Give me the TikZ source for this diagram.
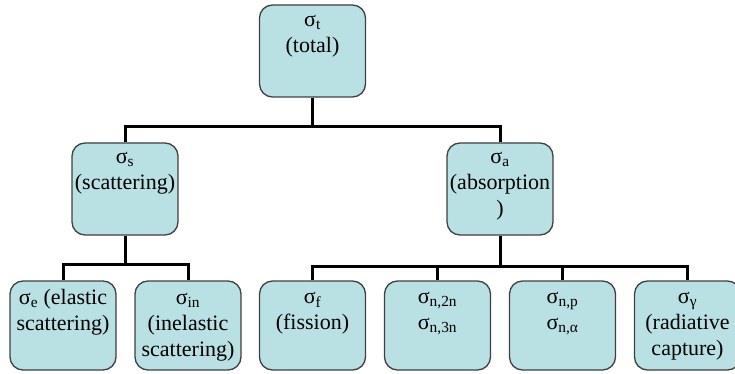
\documentclass[tikz,border=0pt]{standalone}
\usepackage{fontspec}
\setmainfont{Liberation Serif}
\definecolor{boxfill}{RGB}{185,224,227}
\definecolor{boxline}{RGB}{64,64,64}
\tikzset{
  cbox/.style={draw=boxline, fill=boxfill, line width=1.3pt, rounded corners=13pt,
    minimum width=106pt, minimum height=92pt, inner sep=0pt},
  ctext/.style={anchor=north, align=center, inner sep=0pt,
    font=\fontsize{22}{26}\selectfont},
  link/.style={line width=3pt}
}
\newcommand{\sig}[1]{\strut σ\textsubscript{#1}}
\begin{document}
\begin{tikzpicture}[x=1pt,y=-1pt]
  \useasboundingbox (0,0) rectangle (735,374);
  % top and middle row
  \node[cbox] (total) at (312.5,51) {};
  \node[cbox] (scat) at (125,189) {};
  \node[cbox] (abs) at (500,189) {};
  % bottom row
  \node[cbox, minimum height=89pt] (elas) at (63,325.5) {};
  \node[cbox, minimum height=89pt] (inel) at (188,325.5) {};
  \node[cbox, minimum height=89pt] (fis) at (312.5,325.5) {};
  \node[cbox, minimum height=89pt] (n2n) at (437.5,325.5) {};
  \node[cbox, minimum height=89pt] (np) at (562.5,325.5) {};
  \node[cbox, minimum height=89pt] (cap) at (687.5,325.5) {};
  % texts
  \node[ctext] (total-t) at ([yshift=-4pt]total.north) {\sig{t}\\(total)};
  \node[ctext] (scat-t) at ([yshift=-3pt]scat.north) {\sig{s}\\(scattering)};
  \node[ctext] (abs-t) at ([yshift=-3pt]abs.north) {\sig{a}\\(absorption\\)};
  \node[ctext] (elas-t) at ([yshift=-6pt]elas.north) {\sig{e} (elastic\\scattering)};
  \node[ctext] (inel-t) at ([yshift=-6pt]inel.north) {\sig{in}\\(inelastic\\scattering)};
  \node[ctext] (fis-t) at ([yshift=-5pt]fis.north) {\sig{f}\\(fission)};
  \node[ctext] (n2n-t) at ([yshift=-5pt]n2n.north) {\sig{n,2n}\\\sig{n,3n}};
  \node[ctext] (np-t) at ([yshift=-5pt]np.north) {\sig{n,p}\\\sig{n,α}};
  \node[ctext] (cap-t) at ([yshift=-5pt]cap.north) {\sig{γ}\\(radiative\\capture)};
  % connectors
  \coordinate (topbar) at (312.5,127);
  \coordinate (sbar) at (125,264);
  \coordinate (abar) at (500,266);
  \draw[link] (total.south) -- (topbar);
  \draw[link] (scat.north) |- (topbar) -| (abs.north);
  \draw[link] (scat.south) -- (sbar);
  \draw[link] (elas.north) |- (sbar) -| (inel.north);
  \draw[link] (abs.south) -- (abar);
  \draw[link] (fis.north) |- (abar) -| (cap.north);
  \draw[link] (n2n.north) -- (n2n.north |- abar);
  \draw[link] (np.north) -- (np.north |- abar);
\end{tikzpicture}
\end{document}
